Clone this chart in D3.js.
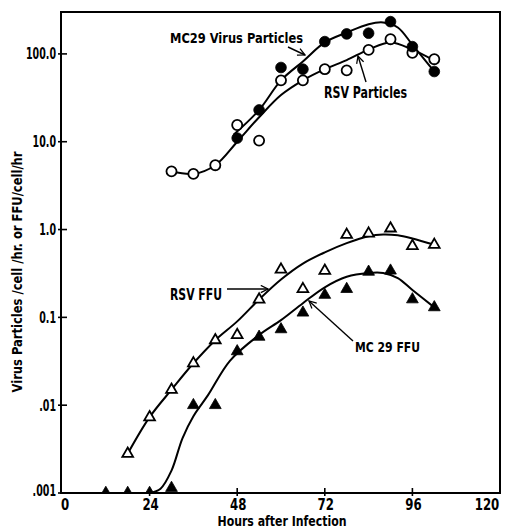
<!DOCTYPE html>
<html>
<head>
<meta charset="utf-8">
<script src="https://cdn.jsdelivr.net/npm/d3@7"></script>
<style>
  body { margin: 0; background: #fff; }
  text { font-family: "Liberation Sans Narrow", "DejaVu Sans Condensed", "Roboto", sans-serif; font-weight: bold; fill: #000; }
</style>
</head>
<body>
<script>
// measured points, hours after infection
var rsvParticleHours = [30, 36, 42, 48, 54, 60, 66, 72, 78, 84, 90, 96, 102];
var rsvParticleValues = [4.6, 4.3, 5.4, 15.5, 10.3, 50, 50, 67, 65, 111, 147, 103, 87];

var mc29ParticleHours = [48, 54, 60, 66, 72, 78, 84, 90, 96, 102];
var mc29ParticleValues = [11, 23, 70, 67, 138, 169, 172, 233, 121, 63];

var rsvFfuHours = [18, 24, 30, 36, 42, 48, 54, 60, 66, 72, 78, 84, 90, 96, 102];
var rsvFfuValues = [0.0028, 0.0073, 0.015, 0.030, 0.055, 0.063, 0.16, 0.35, 0.21, 0.34, 0.87, 0.90, 1.03, 0.65, 0.67];

var mc29FfuHours = [12, 18, 24, 30, 36, 42, 48, 54, 60, 66, 72, 78, 84, 90, 96, 102];
var mc29FfuValues = [0.001, 0.001, 0.001, 0.00114, 0.010, 0.010, 0.041, 0.060, 0.073, 0.113, 0.18, 0.21, 0.33, 0.34, 0.16, 0.13];

// hand drawn fitted curves
var rsvParticleCurveHours = [30, 36, 42, 48, 54, 60, 66, 72, 78, 84, 90, 96, 102];
var rsvParticleCurveValues = [4.6, 4.3, 5.4, 10, 19, 34, 50, 67, 85, 112, 135, 112, 84];

var mc29ParticleCurveHours = [47, 54, 60, 66, 72, 78, 84, 88, 92, 96, 102];
var mc29ParticleCurveValues = [12, 23, 50, 82, 135, 175, 218, 228, 200, 127, 63];

var rsvFfuCurveHours = [18, 24, 30, 36, 42, 48, 54, 60, 66, 72, 78, 84, 88, 92, 96, 102];
var rsvFfuCurveValues = [0.0028, 0.0073, 0.015, 0.030, 0.055, 0.09, 0.16, 0.27, 0.41, 0.55, 0.70, 0.84, 0.88, 0.86, 0.79, 0.67];

var mc29FfuCurveHours = [24, 27, 30, 33, 36, 40, 46, 54, 60, 66, 72, 78, 84, 88, 92, 96, 102];
var mc29FfuCurveValues = [0.001, 0.00112, 0.0018, 0.0042, 0.0075, 0.013, 0.032, 0.063, 0.093, 0.145, 0.22, 0.29, 0.32, 0.32, 0.28, 0.205, 0.13];

// axis ticks
var xTicks = [0, 24, 48, 72, 96, 120];
var yTicks = [0.001, 0.01, 0.1, 1, 10, 100];
var yTickLabels = [".001", ".01", "0.1", "1.0", "10.0", "100.0"];

var width = 506, height = 529;
var plotLeft = 61, plotRight = 500, plotTop = 12, plotBottom = 493;

var x = d3.scaleLinear().domain([0, 120]).range([plotLeft + 1, plotRight]);
var y = d3.scaleLog().domain([0.001, 300]).range([plotBottom, plotTop]);

var svg = d3.select("body").append("svg")
    .attr("width", width)
    .attr("height", height);

var defs = svg.append("defs");
defs.append("clipPath").attr("id", "plot")
  .append("rect")
    .attr("x", plotLeft).attr("y", plotTop)
    .attr("width", plotRight - plotLeft).attr("height", plotBottom - plotTop);

defs.append("marker")
    .attr("id", "arrow")
    .attr("viewBox", "0 0 10 10")
    .attr("refX", 9).attr("refY", 5)
    .attr("markerWidth", 9).attr("markerHeight", 9)
    .attr("markerUnits", "userSpaceOnUse")
    .attr("orient", "auto")
  .append("path")
    .attr("d", "M1,1 L9,5 L1,9")
    .attr("fill", "none")
    .attr("stroke", "#000")
    .attr("stroke-width", 1.4);

function zip(hours, values) {
  return hours.map(function(h, i) { return [h, values[i]]; });
}

// rough width of a narrow label, digits wider than points
function narrowWidth(s, digit) {
  return s.split("").reduce(function(w, c) { return w + (c === "." ? digit * 0.55 : digit); }, 0);
}

var line = d3.line()
    .x(function(d) { return x(d[0]); })
    .y(function(d) { return y(d[1]); })
    .curve(d3.curveCatmullRom.alpha(0.5));

// frame
svg.append("rect")
    .attr("x", plotLeft).attr("y", plotTop)
    .attr("width", plotRight - plotLeft).attr("height", plotBottom - plotTop)
    .attr("fill", "none")
    .attr("stroke", "#000")
    .attr("stroke-width", 2);

// ticks
svg.selectAll(".ytick").data(yTicks).enter().append("line")
    .attr("x1", plotLeft - 3).attr("x2", plotLeft + 6)
    .attr("y1", function(d) { return y(d); })
    .attr("y2", function(d) { return y(d); })
    .attr("stroke", "#000").attr("stroke-width", 1.6);

svg.selectAll(".xtick").data(xTicks.slice(1, -1)).enter().append("line")
    .attr("x1", function(d) { return x(d); })
    .attr("x2", function(d) { return x(d); })
    .attr("y1", plotBottom - 5).attr("y2", plotBottom + 3)
    .attr("stroke", "#000").attr("stroke-width", 1.6);

svg.selectAll(".ylab").data(yTicks).enter().append("text")
    .attr("x", plotLeft - 5)
    .attr("y", function(d, i) { return y(d) + (i === 0 ? 2.5 : 5.5); })
    .attr("text-anchor", "end")
    .attr("textLength", function(d, i) { return narrowWidth(yTickLabels[i], 6.6); })
    .attr("lengthAdjust", "spacingAndGlyphs")
    .style("font-size", "15px")
    .text(function(d, i) { return yTickLabels[i]; });

svg.selectAll(".xlab").data(xTicks).enter().append("text")
    .attr("x", function(d, i) { return i === 0 ? x(d) + 3 : Math.min(x(d) + 1, 487); })
    .attr("y", 510)
    .attr("text-anchor", "middle")
    .attr("textLength", function(d) { return narrowWidth(String(d), 8.2); })
    .attr("lengthAdjust", "spacingAndGlyphs")
    .style("font-size", "15px")
    .text(function(d) { return d; });

svg.append("text")
    .attr("x", 282).attr("y", 526)
    .attr("text-anchor", "middle")
    .attr("textLength", 129).attr("lengthAdjust", "spacingAndGlyphs")
    .style("font-size", "14px")
    .text("Hours after Infection");

svg.append("text")
    .attr("transform", "translate(22,272) rotate(-90)")
    .attr("text-anchor", "middle")
    .attr("textLength", 241).attr("lengthAdjust", "spacingAndGlyphs")
    .style("font-size", "14px")
    .text("Virus Particles /cell /hr. or FFU/cell/hr");

// fitted curves
var plot = svg.append("g").attr("clip-path", "url(#plot)");

[[rsvParticleCurveHours, rsvParticleCurveValues],
 [mc29ParticleCurveHours, mc29ParticleCurveValues],
 [rsvFfuCurveHours, rsvFfuCurveValues],
 [mc29FfuCurveHours, mc29FfuCurveValues]].forEach(function(c) {
  plot.append("path")
      .attr("d", line(zip(c[0], c[1])))
      .attr("fill", "none")
      .attr("stroke", "#000")
      .attr("stroke-width", 2);
});

// points
function points(data, shape, size, filled) {
  plot.selectAll(null).data(data).enter().append("path")
      .attr("transform", function(d) { return "translate(" + x(d[0]) + "," + y(d[1]) + ")"; })
      .attr("d", d3.symbol().type(shape).size(size))
      .attr("fill", filled ? "#000" : "#fff")
      .attr("stroke", "#000")
      .attr("stroke-width", filled ? 0.8 : 1.8);
}

points(zip(rsvParticleHours, rsvParticleValues), d3.symbolCircle, 80, false);
points(zip(mc29ParticleHours, mc29ParticleValues), d3.symbolCircle, 90, true);
points(zip(rsvFfuHours, rsvFfuValues), d3.symbolTriangle, 50, false);
points(zip(mc29FfuHours, mc29FfuValues), d3.symbolTriangle, 60, true);

// annotations
function label(txt, tx, ty, len, size) {
  svg.append("text")
      .attr("x", tx).attr("y", ty)
      .attr("textLength", len).attr("lengthAdjust", "spacingAndGlyphs")
      .style("font-size", size + "px")
      .text(txt);
}
function arrow(x1, y1, x2, y2) {
  svg.append("line")
      .attr("x1", x1).attr("y1", y1).attr("x2", x2).attr("y2", y2)
      .attr("stroke", "#000").attr("stroke-width", 1.4)
      .attr("marker-end", "url(#arrow)");
}

label("MC29 Virus Particles", 170, 43, 133, 14);
arrow(288, 47, 305, 55);

label("RSV Particles", 324, 98, 83, 15);
arrow(366, 82, 358, 56);

label("RSV FFU", 170, 300, 52, 16);
arrow(227, 289, 268, 289);

label("MC 29 FFU", 355, 352, 65, 14);
arrow(353, 341, 309, 301);
</script>
</body>
</html>
